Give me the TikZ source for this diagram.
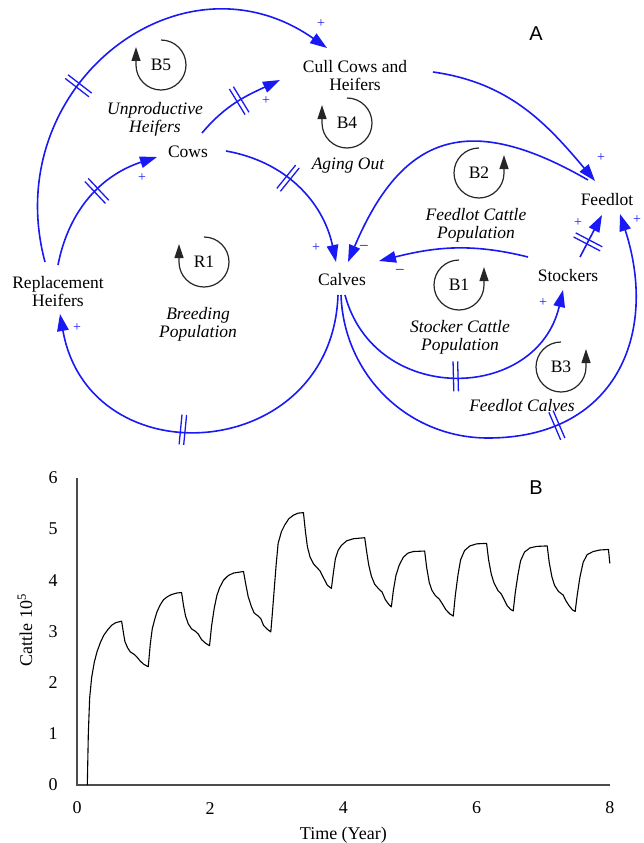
\documentclass[tikz,border=0pt]{standalone}
\usepackage{fontspec}
\setmainfont{Liberation Serif}
\newfontfamily\panelfont{Liberation Sans}
\usepackage{xcolor}
\usetikzlibrary{arrows.meta,decorations.markings}
\definecolor{linkblue}{RGB}{25,25,245}
\tikzset{>={Triangle[length=17pt,width=11.5pt]}}
\tikzstyle{var}=[align=center, inner sep=1pt, font=\fontsize{17.5}{18}\selectfont]
\tikzstyle{looptitle}=[align=center, inner sep=1pt, font=\itshape\fontsize{17.5}{18}\selectfont]
\tikzstyle{loopnum}=[inner sep=1pt, font=\fontsize{17.5}{18}\selectfont]
\tikzstyle{link}=[draw=linkblue, line width=1.6pt, ->]
\tikzstyle{loopline}=[draw=black!85, line width=1.2pt, -{Triangle[length=14pt,width=9pt]}]
\tikzstyle{pol}=[text=linkblue, inner sep=0pt, font=\fontsize{14}{14}\selectfont]
\tikzstyle{panel}=[font=\panelfont\fontsize{20}{20}\selectfont]
\tikzstyle{ticklab}=[font=\fontsize{18}{18}\selectfont]
\tikzset{delay/.style={postaction={decorate, decoration={markings,
  mark=at position #1 with {\draw[-, draw=linkblue, line width=1.3pt]
    (-2.3pt,-15pt) -- (-2.3pt,15pt) (2.3pt,-15pt) -- (2.3pt,15pt);}}}}}

\begin{document}
\begin{tikzpicture}[x=1pt, y=-1pt]
\useasboundingbox (0,0) rectangle (643,843);

% stocks
\node[var] (cows) at (188,152) {Cows};
\node[var] (cull) at (355,76) {Cull Cows and\\Heifers};
\node[var] (rheif) at (58,292) {Replacement\\Heifers};
\node[var] (calves) at (342,280) {Calves};
\node[var] (stockers) at (568,276) {Stockers};
\node[var] (feedlot) at (607,200) {Feedlot};

\node[panel] (pA) at (536,34) {A};

% loop names
\node[looptitle] (unprod) at (155,119) {Unproductive\\Heifers};
\node[looptitle] (aging) at (348,166) {Aging Out};
\node[looptitle] (breeding) at (198,324) {Breeding\\Population};
\node[looptitle] (fcpop) at (476,225) {Feedlot Cattle\\Population};
\node[looptitle] (scpop) at (460,337) {Stocker Cattle\\Population};
\node[looptitle] (fcalves) at (522,406) {Feedlot Calves};

% loop markers
\node[loopnum] (b5) at (161,65) {B5};
\node[loopnum] (b4) at (347,123) {B4};
\node[loopnum] (r1) at (204,262) {R1};
\node[loopnum] (b2) at (479,173) {B2};
\node[loopnum] (b1) at (459,285) {B1};
\node[loopnum] (b3) at (561,367) {B3};
\foreach \lp in {b5,b4,r1}
  \draw[loopline] ([shift={(0,-25)}]\lp.center) arc[start angle=90, end angle=-180, radius=25pt] -- ++(0,-18);
\foreach \lp in {b2,b1,b3}
  \draw[loopline] ([shift={(0,-25)}]\lp.center) arc[start angle=90, end angle=360, radius=25pt] -- ++(0,-18);

% links
\draw[link, delay=0.55] ([shift={(0,-27)}]rheif.center) to[out=79, in=198] ([shift={(-31,5)}]cows.center);
\draw[link, delay=0.4] ([shift={(-13,-30)}]rheif.center) to[out=105, in=145, looseness=1.3] ([shift={(-28,-28)}]cull.center);
\draw[link, delay=0.52] ([shift={(14,-19)}]cows.center) to[out=50, in=205] ([shift={(-75,4)}]cull.center);
\draw[link, delay=0.41] ([shift={(38,-1)}]cows.center) to[out=-10, in=102] ([shift={(-6,-18)}]calves.center);
\draw[link, delay=0.56] ([shift={(-4,15)}]calves.center) to[out=-92, in=-80, looseness=1.55] ([shift={(2,22)}]rheif.center);
\draw[link, delay=0.5] ([shift={(3,15)}]calves.center) to[out=-75, in=-103, looseness=1.35] ([shift={(-5,14)}]stockers.center);
\draw[link] ([shift={(-40,-19)}]stockers.center) to[out=166, in=14] ([shift={(37,-19)}]calves.center);
\draw[link] ([shift={(-19,-20)}]feedlot.center) to[out=150, in=67, looseness=1.4] ([shift={(6,-18)}]calves.center);
\draw[link] ([shift={(78,-4)}]cull.center) to[out=-8, in=130] ([shift={(-12,-19)}]feedlot.center);
\draw[link, delay=0.36] ([shift={(12,-19)}]stockers.center) -- ([shift={(-5,15)}]feedlot.center);
\draw[link, delay=0.55] ([shift={(-1,15)}]calves.center) to[out=-88, in=180] ([shift={(146,158)}]calves.center)
  to[out=0, in=-72, looseness=1.25] ([shift={(13,14)}]feedlot.center);

% polarities
\node[pol] (s1) at (321,24) {+};
\node[pol] (s2) at (266,101) {+};
\node[pol] (s3) at (142,178) {+};
\node[pol] (s4) at (316,248) {+};
\node[pol, font=\fontsize{17}{17}\selectfont] (s5) at (364,248) {−};
\node[pol, font=\fontsize{17}{17}\selectfont] (s6) at (400,272) {−};
\node[pol] (s7) at (77,328) {+};
\node[pol] (s8) at (543,303) {+};
\node[pol] (s9) at (578,223) {+};
\node[pol] (s10) at (601,158) {+};
\node[pol] (s11) at (637,220) {+};

% plot B
\node[panel] (pB) at (536,488) {B};
\begin{scope}[shift={(77pt,-785pt)}, x=66.6pt, y=51.2pt]
  \draw[black!70, line width=1.3pt] (0,6) -- (0,0) -- (8,0);
  \foreach \k in {0,...,6}
    \node[ticklab] (ytick\k) at (-0.36,\k) {\k};
  \foreach \k in {0,2,...,8}
    \node[ticklab] (xtick\k) at (\k,-0.45) {\k};
  \node[ticklab, rotate=90] (ylab) at (-0.78,3.03) {Cattle 10\textsuperscript{5}};
  \node[ticklab] (xlab) at (4.0,-0.98) {Time (Year)};
  \draw[black, line width=1.1pt, line join=round]
    (0.155,0) -- (0.17,1.0) -- (0.19,1.7) -- (0.22,2.1) -- (0.26,2.4) -- (0.3,2.6) -- (0.35,2.78) -- (0.4,2.92) -- (0.46,3.03) -- (0.52,3.12) -- (0.58,3.17) -- (0.67,3.2)
    -- (0.7,2.95) -- (0.72,2.8) -- (0.76,2.68) -- (0.8,2.6) -- (0.86,2.55) -- (0.9,2.5) -- (0.95,2.42) -- (1.0,2.36) -- (1.07,2.31)
    -- (1.1,2.75) -- (1.13,3.05) -- (1.17,3.25) -- (1.2,3.38) -- (1.25,3.52) -- (1.3,3.62) -- (1.36,3.68) -- (1.42,3.72) -- (1.5,3.75) -- (1.57,3.76)
    -- (1.6,3.5) -- (1.63,3.3) -- (1.67,3.15) -- (1.72,3.05) -- (1.78,3.0) -- (1.82,2.95) -- (1.87,2.84) -- (1.93,2.77) -- (1.99,2.72)
    -- (2.02,3.1) -- (2.06,3.45) -- (2.1,3.7) -- (2.14,3.85) -- (2.2,4.0) -- (2.27,4.09) -- (2.35,4.14) -- (2.5,4.17)
    -- (2.53,3.95) -- (2.57,3.68) -- (2.62,3.48) -- (2.66,3.36) -- (2.72,3.3) -- (2.76,3.25) -- (2.8,3.12) -- (2.85,3.05) -- (2.91,2.99)
    -- (2.93,3.3) -- (2.96,3.8) -- (2.99,4.3) -- (3.02,4.72) -- (3.07,4.95) -- (3.12,5.08) -- (3.18,5.2) -- (3.25,5.27) -- (3.32,5.31) -- (3.4,5.32)
    -- (3.43,4.95) -- (3.46,4.65) -- (3.5,4.45) -- (3.55,4.32) -- (3.6,4.25) -- (3.65,4.18) -- (3.7,4.05) -- (3.76,3.9) -- (3.82,3.84)
    -- (3.85,4.15) -- (3.88,4.42) -- (3.92,4.58) -- (3.97,4.68) -- (4.05,4.77) -- (4.15,4.81) -- (4.32,4.83)
    -- (4.35,4.55) -- (4.38,4.3) -- (4.42,4.08) -- (4.47,3.92) -- (4.53,3.83) -- (4.58,3.77) -- (4.63,3.62) -- (4.68,3.53) -- (4.72,3.48)
    -- (4.75,3.8) -- (4.79,4.1) -- (4.84,4.3) -- (4.9,4.45) -- (4.97,4.53) -- (5.05,4.56) -- (5.22,4.57)
    -- (5.25,4.25) -- (5.29,3.95) -- (5.33,3.8) -- (5.38,3.7) -- (5.44,3.63) -- (5.48,3.55) -- (5.54,3.42) -- (5.6,3.34) -- (5.65,3.3)
    -- (5.68,3.7) -- (5.72,4.1) -- (5.76,4.4) -- (5.82,4.58) -- (5.9,4.67) -- (6.0,4.71) -- (6.15,4.72)
    -- (6.18,4.4) -- (6.22,4.12) -- (6.26,3.95) -- (6.32,3.8) -- (6.37,3.73) -- (6.41,3.63) -- (6.46,3.5) -- (6.51,3.43) -- (6.55,3.4)
    -- (6.58,3.75) -- (6.62,4.1) -- (6.66,4.38) -- (6.72,4.55) -- (6.8,4.63) -- (6.9,4.66) -- (7.06,4.67)
    -- (7.09,4.35) -- (7.13,4.07) -- (7.17,3.9) -- (7.23,3.78) -- (7.3,3.71) -- (7.34,3.6) -- (7.39,3.5) -- (7.44,3.42) -- (7.48,3.39)
    -- (7.51,3.7) -- (7.55,4.05) -- (7.6,4.35) -- (7.66,4.5) -- (7.75,4.56) -- (7.85,4.59) -- (7.98,4.6) -- (8.0,4.33);
\end{scope}
\end{tikzpicture}
\end{document}
